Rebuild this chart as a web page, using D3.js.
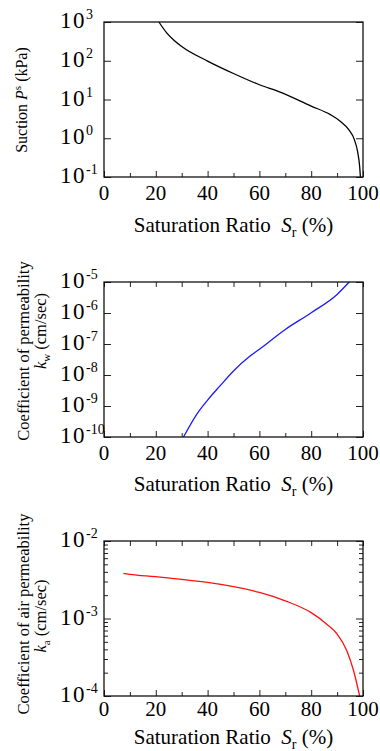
<!DOCTYPE html>
<html>
<head>
<meta charset="utf-8">
<script src="https://cdn.jsdelivr.net/npm/d3@7"></script>
</head>
<body style="margin:0; background:#fff">
<svg id="chart" width="380" height="751" style="font-family: 'Liberation Serif', serif"></svg>
<script>
// saturation ratio ticks shared by all three panels
const xMajor = [0, 20, 40, 60, 80, 100];
const xMinor = [10, 30, 50, 70, 90];
const xAll = [0, 10, 20, 30, 40, 50, 60, 70, 80, 90, 100];

// suction curve (kPa)
const suctionSr = [21.2, 24.2, 27, 30, 40, 50, 60, 68, 80, 87.4, 91.2, 94.5, 96.7, 97.9, 98.7, 99.0];
const suctionKPa = [1000, 525, 339, 234, 98, 46.8, 24, 15.5, 6.76, 4.07, 2.75, 1.66, 0.91, 0.457, 0.19, 0.1];
const suctionExp = [3, 2, 1, 0, -1];

// water permeability (cm/sec)
const kwSr = [30.7, 35.8, 40, 44.8, 50, 56.4, 60, 70, 80, 90, 94.7];
const kwValues = [1e-10, 5.4e-10, 1.55e-9, 4.47e-9, 1.35e-8, 4.07e-8, 6.76e-8, 2.95e-7, 1.02e-6, 3.98e-6, 1e-5];
const kwExp = [-5, -6, -7, -8, -9, -10];

// air permeability (cm/sec)
const kaSr = [7.5, 10, 19.8, 30, 40, 50, 60, 70, 80, 86, 90, 93.8, 96.4, 98.7];
const kaValues = [3.82e-3, 3.72e-3, 3.46e-3, 3.19e-3, 2.92e-3, 2.57e-3, 2.17e-3, 1.69e-3, 1.19e-3, 8.45e-4, 6.31e-4, 3.82e-4, 2.1e-4, 1e-4];
const kaExp = [-2, -3, -4];
const kaMinor = [2e-4, 3e-4, 4e-4, 5e-4, 6e-4, 7e-4, 8e-4, 9e-4, 2e-3, 3e-3, 4e-3, 5e-3, 6e-3, 7e-3, 8e-3, 9e-3];

const svg = d3.select("#chart");
const left = 104, right = 363;

const x = d3.scaleLinear().domain([0, 100]).range([left, right]);

// every label goes through here so the serif face sticks
function label(sel) {
  return sel.append("text")
    .attr("font-family", "Liberation Serif")
    .style("font-family", "'Liberation Serif'");
}

function drawPanel(p) {
  let y = d3.scaleLog().domain([Math.pow(10, d3.min(p.exp)), Math.pow(10, d3.max(p.exp))]).range([p.bottom, p.top]);
  let g = svg.append("g");

  // ticks (all inward)
  let addAxis = (axis, tx, ty) => {
    let a = g.append("g").attr("transform", `translate(${tx},${ty})`).call(axis);
    a.select(".domain").remove();
    a.selectAll("line").attr("stroke", "#222").attr("stroke-width", 1);
    a.selectAll("text").remove();
    return a;
  };
  addAxis(d3.axisBottom(x).tickValues(xMajor).tickSize(-6).tickFormat(""), 0, p.bottom);
  addAxis(d3.axisBottom(x).tickValues(xMinor).tickSize(-4).tickFormat(""), 0, p.bottom);
  if (p.topTicks) addAxis(d3.axisTop(x).tickValues(xAll).tickSize(-5).tickFormat(""), 0, p.top);
  let decades = p.exp.map(e => Math.pow(10, e));
  addAxis(d3.axisLeft(y).tickValues(decades).tickSize(-7).tickFormat(""), left, 0);
  addAxis(d3.axisRight(y).tickValues(decades).tickSize(-7).tickFormat(""), right, 0);
  if (p.minor) {
    addAxis(d3.axisLeft(y).tickValues(p.minor).tickSize(-4).tickFormat(""), left, 0);
    addAxis(d3.axisRight(y).tickValues(p.minor).tickSize(-4).tickFormat(""), right, 0);
  }

  // curve
  let line = d3.line().x(d => x(d[0])).y(d => y(d[1])).curve(d3.curveMonotoneX);
  g.append("path")
    .datum(d3.zip(p.sr, p.values))
    .attr("d", line)
    .attr("fill", "none")
    .attr("stroke", p.color)
    .attr("stroke-width", 1.3);

  // frame
  g.append("rect")
    .attr("x", left).attr("y", p.top)
    .attr("width", right - left).attr("height", p.bottom - p.top)
    .attr("fill", "none").attr("stroke", "#111").attr("stroke-width", 1.3);

  // x tick labels
  for (let v of xMajor) {
    label(g).attr("x", x(v)).attr("y", p.bottom + p.xLabelOff)
      .attr("text-anchor", "middle").attr("font-size", 21)
      .text(v);
  }

  // y tick labels  10^e
  for (let e of p.exp) {
    let t = label(g).attr("x", 60).attr("y", y(Math.pow(10, e)) + 6).attr("font-size", 23);
    t.append("tspan").attr("letter-spacing", 1.5).text("10");
    t.append("tspan").attr("font-size", 14).attr("dy", -9).text(e);
  }

  // x title
  let xt = label(g)
    .attr("x", (left + right) / 2).attr("y", p.bottom + p.xTitleOff)
    .attr("text-anchor", "middle").attr("font-size", 21);
  xt.append("tspan").text("Saturation Ratio\u00a0\u00a0");
  xt.append("tspan").attr("font-style", "italic").text("S");
  xt.append("tspan").attr("font-size", 14).attr("dy", 5).text("r");
  xt.append("tspan").attr("dy", -5).text(" (%)");

  // y title lines
  p.yTitle(g);
}

drawPanel({
  top: 22, bottom: 177, exp: suctionExp, sr: suctionSr, values: suctionKPa,
  color: "#000", topTicks: false, xLabelOff: 23, xTitleOff: 55,
  yTitle: g => {
    let t = label(g).attr("transform", "translate(27,100) rotate(-90)")
      .attr("text-anchor", "middle").attr("font-size", 16);
    t.append("tspan").text("Suction ");
    t.append("tspan").attr("font-style", "italic").text("P");
    t.append("tspan").attr("font-size", 11).attr("dy", -6).text("s");
    t.append("tspan").attr("dy", 6).text(" (kPa)");
  }
});

drawPanel({
  top: 282, bottom: 437, exp: kwExp, sr: kwSr, values: kwValues,
  color: "#1a1aff", topTicks: true, xLabelOff: 23, xTitleOff: 54,
  yTitle: g => {
    label(g).attr("transform", "translate(29,351) rotate(-90)")
      .attr("text-anchor", "middle").attr("font-size", 16.5)
      .text("Coefficient of permeability");
    let t = label(g).attr("transform", "translate(46,331) rotate(-90)")
      .attr("text-anchor", "middle").attr("font-size", 16.5);
    t.append("tspan").attr("font-style", "italic").text("k");
    t.append("tspan").attr("font-size", 11).attr("dy", 4).text("w");
    t.append("tspan").attr("dy", -4).text(" (cm/sec)");
  }
});

drawPanel({
  top: 541, bottom: 696, exp: kaExp, sr: kaSr, values: kaValues, minor: kaMinor,
  color: "#ff1010", topTicks: true, xLabelOff: 20, xTitleOff: 48,
  yTitle: g => {
    label(g).attr("transform", "translate(29,614) rotate(-90)")
      .attr("text-anchor", "middle").attr("font-size", 16.5)
      .text("Coefficient of air permeability");
    let t = label(g).attr("transform", "translate(46,616) rotate(-90)")
      .attr("text-anchor", "middle").attr("font-size", 16.5);
    t.append("tspan").attr("font-style", "italic").text("k");
    t.append("tspan").attr("font-size", 11).attr("dy", 4).text("a");
    t.append("tspan").attr("dy", -4).text(" (cm/sec)");
  }
});
</script>
</body>
</html>
